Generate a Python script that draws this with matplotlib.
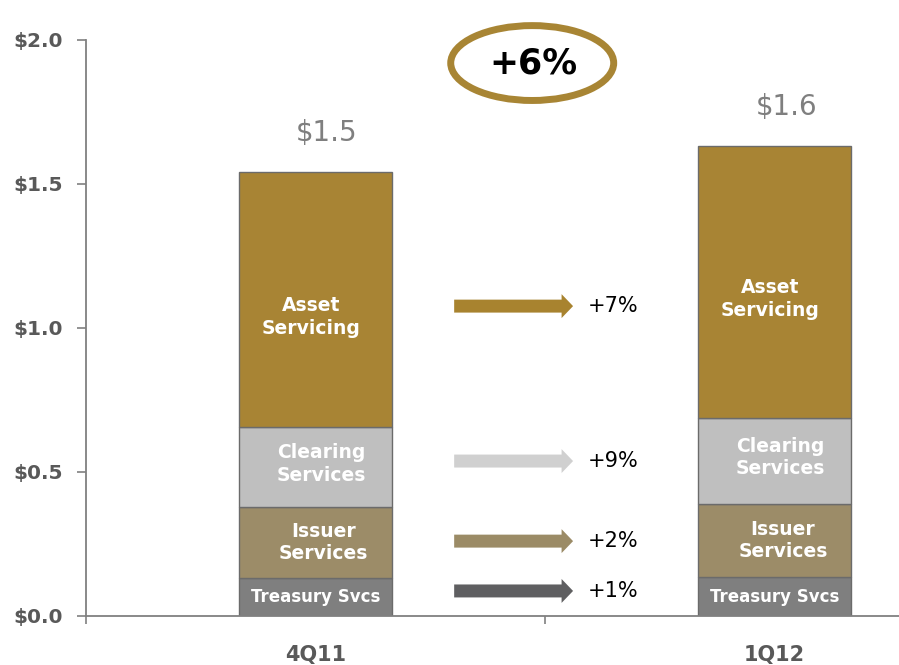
import matplotlib
matplotlib.use("Agg")
import matplotlib.pyplot as plt
from matplotlib.patches import Ellipse
import numpy as np

plt.rcParams["font.family"] = ["DejaVu Sans"]

quarters = ["4Q11", "1Q12"]
totals_labels = ["$1.5", "$1.6"]
segments = ["Treasury Svcs", "Issuer\nServices", "Clearing\nServices", "Asset\nServicing"]
treasury = [0.132, 0.135]
issuer = [0.246, 0.254]
clearing = [0.278, 0.299]
asset = [0.885, 0.944]
growth = ["+1%", "+2%", "+9%", "+7%"]
total_growth = "+6%"
y_ticks = [0.0, 0.5, 1.0, 1.5, 2.0]

colors = ["#7f7f7f", "#9c8c68", "#bfbfbf", "#a88434"]
arrow_colors = ["#5f5f61", "#9b8b66", "#d0d0d0", "#a8832f"]
arrow_y = [0.087, 0.260, 0.538, 1.076]
# small nudges so the in-bar labels sit like the original slide
label_dx = [0.0, 0.018, 0.013, -0.01]
label_dy = [0.0, 0.0, 0.012, -0.06]

fig = plt.figure(figsize=(8.99, 6.65), dpi=100)
ax = fig.add_axes([86 / 899, 1 - 616 / 665, 1 - 86 / 899, (616 - 40) / 665])

x = np.arange(len(quarters))
width = 0.335
bottom = np.zeros(len(quarters))
for k, (name, vals, c) in enumerate(zip(segments, [treasury, issuer, clearing, asset], colors)):
    vals = np.array(vals)
    ax.bar(x, vals, width, bottom=bottom, color=c, edgecolor="#6b6b6b", linewidth=1.0, zorder=2)
    for i in range(len(quarters)):
        mid = bottom[i] + vals[i] / 2 + label_dy[k]
        ax.text(x[i] + label_dx[k], mid, name, ha="center", va="center", color="white",
                fontsize=13.5 if "\n" in name else 12, fontweight="bold",
                linespacing=1.25, zorder=3)
    bottom += vals

for i, lab in enumerate(totals_labels):
    ax.text(x[i] + 0.025, bottom[i] + 0.135, lab, ha="center", va="center",
            color="#7f7f7f", fontsize=20)

for y, c, g in zip(arrow_y, arrow_colors, growth):
    ax.arrow(0.302, y, 0.259, 0, width=0.045, head_width=0.083, head_length=0.025,
             length_includes_head=True, color=c, linewidth=0, zorder=3)
    ax.text(0.594, y, g, ha="left", va="center", color="black", fontsize=15)

ell = Ellipse((0.472, 1.92), 0.355, 0.26, facecolor="white", edgecolor="#a88534",
              linewidth=5, clip_on=False, zorder=4)
ax.add_patch(ell)
ax.text(0.474, 1.92, total_growth, ha="center", va="center", fontsize=25,
        fontweight="bold", color="black", clip_on=False, zorder=5)

ax.set_xlim(-0.5, 1.271)
ax.set_ylim(0, 2.0)
ax.set_yticks(y_ticks)
ax.set_yticklabels([f"${v:.1f}" for v in y_ticks], fontsize=14.5, fontweight="bold", color="#595959")
ax.set_xticks(x)
ax.set_xticklabels(quarters, fontsize=15, fontweight="bold", color="#595959")
ax.tick_params(axis="x", length=0, pad=21)
ax.tick_params(axis="y", length=6.5, width=1.2, color="#808080", pad=10)
ax.set_xticks([-0.5, 0.5], minor=True)
ax.tick_params(axis="x", which="minor", length=6, width=1.2, color="#808080", direction="out")

for s in ["top", "right"]:
    ax.spines[s].set_visible(False)
for s in ["left", "bottom"]:
    ax.spines[s].set_color("#808080")
    ax.spines[s].set_linewidth(1.3)

fig.savefig("out.png", dpi=100)
